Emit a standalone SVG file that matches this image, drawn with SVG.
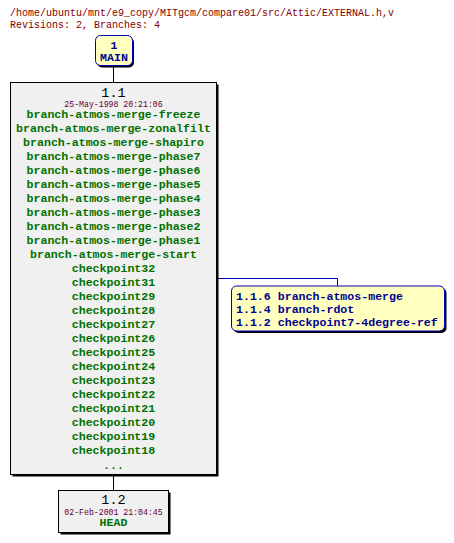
<svg xmlns="http://www.w3.org/2000/svg" width="454" height="543" viewBox="0 0 454 543">
<style>
.hdr{font-family:"Liberation Mono","DejaVu Sans Mono",monospace;font-size:10px;fill:#800000}
.rev{font-family:"Liberation Mono","DejaVu Sans Mono",monospace;font-size:13.5px;fill:#000;text-anchor:middle}
.date{font-family:"Liberation Mono","DejaVu Sans Mono",monospace;font-size:8.2px;fill:#600030;text-anchor:middle}
.tag{font-family:"Liberation Mono","DejaVu Sans Mono",monospace;font-size:11.6px;font-weight:bold;fill:#007000;text-anchor:middle}
.br{font-family:"Liberation Mono","DejaVu Sans Mono",monospace;font-size:11.6px;font-weight:bold;fill:#000090}
.main{font-family:"Liberation Mono","DejaVu Sans Mono",monospace;font-size:11.6px;font-weight:bold;fill:#000090;text-anchor:middle}
.shadow{fill:#000}
.box{fill:#f0f0f0;stroke:#000;stroke-width:1}
.ybox{fill:#ffffc0;stroke:#0000c0;stroke-width:1}
.conn{fill:none;stroke:#000;stroke-width:1}
.bconn{fill:none;stroke:#0000c0;stroke-width:1}
</style>
<rect width="454" height="543" fill="#fff"/>
<text class="hdr" x="10" y="16">/home/ubuntu/mnt/e9_copy/MITgcm/compare01/src/Attic/EXTERNAL.h,v</text>
<text class="hdr" x="10" y="28">Revisions: 2, Branches: 4</text>
<g id="connectors">
<line class="conn" x1="113.5" y1="66" x2="113.5" y2="82.5"/>
<line class="conn" x1="113.5" y1="475" x2="113.5" y2="490.5"/>
<polyline class="bconn" points="217,278.5 337.5,278.5 337.5,286"/>
</g>
<g id="n_main">
<rect class="shadow" x="97" y="37.5" width="37" height="30" rx="5"/>
<rect class="ybox" x="95.5" y="35.5" width="37" height="30" rx="5"/>
<text class="main" x="114" y="49">1</text>
<text class="main" x="114" y="61">MAIN</text>
</g>
<g id="n_1_1">
<rect class="shadow" x="12.5" y="84.5" width="206" height="392"/>
<rect class="box" x="10.5" y="82.5" width="206" height="392"/>
<text class="rev" x="113.5" y="96.5">1.1</text>
<text class="date" x="113.5" y="107">25-May-1998 20:21:06</text>
<text class="tag" x="113.5" y="118">branch-atmos-merge-freeze</text>
<text class="tag" x="113.5" y="132">branch-atmos-merge-zonalfilt</text>
<text class="tag" x="113.5" y="146">branch-atmos-merge-shapiro</text>
<text class="tag" x="113.5" y="160">branch-atmos-merge-phase7</text>
<text class="tag" x="113.5" y="174">branch-atmos-merge-phase6</text>
<text class="tag" x="113.5" y="188">branch-atmos-merge-phase5</text>
<text class="tag" x="113.5" y="202">branch-atmos-merge-phase4</text>
<text class="tag" x="113.5" y="216">branch-atmos-merge-phase3</text>
<text class="tag" x="113.5" y="230">branch-atmos-merge-phase2</text>
<text class="tag" x="113.5" y="244">branch-atmos-merge-phase1</text>
<text class="tag" x="113.5" y="258">branch-atmos-merge-start</text>
<text class="tag" x="113.5" y="272">checkpoint32</text>
<text class="tag" x="113.5" y="286">checkpoint31</text>
<text class="tag" x="113.5" y="300">checkpoint29</text>
<text class="tag" x="113.5" y="314">checkpoint28</text>
<text class="tag" x="113.5" y="328">checkpoint27</text>
<text class="tag" x="113.5" y="342">checkpoint26</text>
<text class="tag" x="113.5" y="356">checkpoint25</text>
<text class="tag" x="113.5" y="370">checkpoint24</text>
<text class="tag" x="113.5" y="384">checkpoint23</text>
<text class="tag" x="113.5" y="398">checkpoint22</text>
<text class="tag" x="113.5" y="412">checkpoint21</text>
<text class="tag" x="113.5" y="426">checkpoint20</text>
<text class="tag" x="113.5" y="440">checkpoint19</text>
<text class="tag" x="113.5" y="454">checkpoint18</text>
<text class="tag" x="113.5" y="469">...</text>
</g>
<g id="n_branches">
<rect class="shadow" x="233.5" y="288" width="213" height="45" rx="5"/>
<rect class="ybox" x="231.5" y="286" width="213" height="45" rx="5"/>
<text class="br" x="236" y="300">1.1.6 branch-atmos-merge</text>
<text class="br" x="236" y="313">1.1.4 branch-rdot</text>
<text class="br" x="236" y="326">1.1.2 checkpoint7-4degree-ref</text>
</g>
<g id="n_1_2">
<rect class="shadow" x="60.5" y="492.5" width="110" height="42"/>
<rect class="box" x="58.5" y="490.5" width="110" height="42"/>
<text class="rev" x="113.5" y="504">1.2</text>
<text class="date" x="113.5" y="514.5">02-Feb-2001 21:04:45</text>
<text class="tag" x="113.5" y="526">HEAD</text>
</g>
</svg>
